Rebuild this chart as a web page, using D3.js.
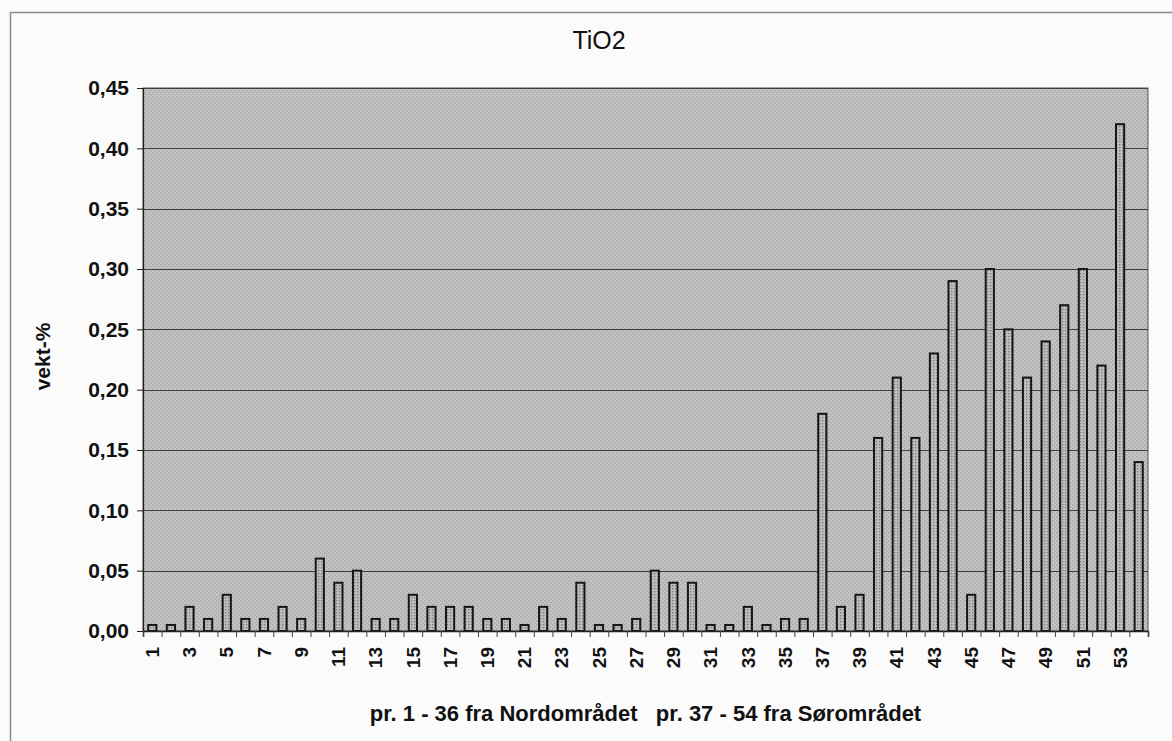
<!DOCTYPE html>
<html>
<head>
<meta charset="utf-8">
<script src="https://cdn.jsdelivr.net/npm/d3@7"></script>
<style>
  html, body { margin: 0; padding: 0; background: #fbfbfb; }
  svg { display: block; }
  text { font-family: "Liberation Sans", Arial, sans-serif; fill: #111; }
</style>
</head>
<body>
<svg id="chart" width="1172" height="741"></svg>
<script>
// Sample numbers (1-54) and TiO2 content in weight-%
const samples = d3.range(1, 55);
const tio2 = [
  0.005, 0.005, 0.02, 0.01, 0.03, 0.01, 0.01, 0.02, 0.01, 0.06,
  0.04, 0.05, 0.01, 0.01, 0.03, 0.02, 0.02, 0.02, 0.01, 0.01,
  0.005, 0.02, 0.01, 0.04, 0.005, 0.005, 0.01, 0.05, 0.04, 0.04,
  0.005, 0.005, 0.02, 0.005, 0.01, 0.01, 0.18, 0.02, 0.03, 0.16,
  0.21, 0.16, 0.23, 0.29, 0.03, 0.30, 0.25, 0.21, 0.24, 0.27,
  0.30, 0.22, 0.42, 0.14
];
const yTicks = [0, 0.05, 0.10, 0.15, 0.20, 0.25, 0.30, 0.35, 0.40, 0.45];
const xLabelSamples = samples.filter(d => d % 2 === 1);

const chartTitle = "TiO2";
const yTitle = "vekt-%";
const xTitle = "pr. 1 - 36 fra Nordområdet   pr. 37 - 54 fra Sørområdet";

const svg = d3.select("#chart");
const plot = { left: 143, right: 1148, top: 88, bottom: 631 };

// Halftone-like fills for the plot area and the bars
const defs = svg.append("defs");
const bgPat = defs.append("pattern").attr("id", "bgDots")
  .attr("width", 4).attr("height", 4).attr("patternUnits", "userSpaceOnUse");
bgPat.append("rect").attr("width", 4).attr("height", 4).attr("fill", "#c4c4c4");
bgPat.append("rect").attr("x", 0).attr("y", 0).attr("width", 1.5).attr("height", 1.5).attr("fill", "#a6a6a6");
bgPat.append("rect").attr("x", 2).attr("y", 2).attr("width", 1.5).attr("height", 1.5).attr("fill", "#a6a6a6");

const barPat = defs.append("pattern").attr("id", "barDots")
  .attr("width", 3).attr("height", 3).attr("patternUnits", "userSpaceOnUse");
barPat.append("rect").attr("width", 3).attr("height", 3).attr("fill", "#bdbdbd");
barPat.append("rect").attr("x", 0).attr("y", 0).attr("width", 1.3).attr("height", 1.3).attr("fill", "#7c7c7c");

// Outer chart frame (left and top edges are visible)
svg.append("path")
  .attr("d", "M10.5,741 V12.5 H1172")
  .attr("fill", "none").attr("stroke", "#8c8c8c").attr("stroke-width", 1.5);

const x = d3.scaleBand().domain(samples)
  .range([plot.left, plot.right]).paddingInner(0.56).paddingOuter(0.28);
const xEdge = d3.scaleLinear().domain([0, samples.length]).range([plot.left, plot.right]);
const y = d3.scaleLinear().domain([0, 0.45]).range([plot.bottom, plot.top]);

const fmt = d => d3.format(".2f")(d).replace(".", ",");

// Plot background
svg.append("rect")
  .attr("x", plot.left).attr("y", plot.top)
  .attr("width", plot.right - plot.left).attr("height", plot.bottom - plot.top)
  .attr("fill", "url(#bgDots)")
  .attr("stroke", "#555").attr("stroke-width", 1);

// Horizontal gridlines
svg.append("g").selectAll("line").data(yTicks.filter(d => d > 0)).join("line")
  .attr("x1", plot.left).attr("x2", plot.right)
  .attr("y1", d => Math.round(y(d)) + 0.5).attr("y2", d => Math.round(y(d)) + 0.5)
  .attr("stroke", "#3f3f3f").attr("stroke-width", 1);

// Bars
svg.append("g").selectAll("rect").data(samples).join("rect")
  .attr("x", d => x(d))
  .attr("y", (d, i) => y(tio2[i]))
  .attr("width", x.bandwidth())
  .attr("height", (d, i) => y(0) - y(tio2[i]))
  .attr("fill", "url(#barDots)")
  .attr("stroke", "#161616").attr("stroke-width", 2);

// Y axis
const yAxis = svg.append("g")
  .attr("transform", `translate(${plot.left},0)`)
  .call(d3.axisLeft(y).tickValues(yTicks).tickFormat(fmt).tickSize(6).tickPadding(8));
yAxis.select(".domain").attr("stroke", "#222").attr("stroke-width", 1.2);
yAxis.selectAll(".tick line").attr("stroke", "#222");
yAxis.selectAll(".tick text")
  .style("font-size", "21px").style("font-weight", "bold").attr("fill", "#111");

// X axis: tick marks on category boundaries
const xAxis = svg.append("g")
  .attr("transform", `translate(0,${plot.bottom})`)
  .call(d3.axisBottom(xEdge).tickValues(d3.range(0, samples.length + 1)).tickFormat("").tickSize(6));
xAxis.select(".domain").attr("stroke", "#222").attr("stroke-width", 1.6);
xAxis.selectAll(".tick line").attr("stroke", "#444");

// X axis labels (every second sample), rotated
const xLab = svg.append("g")
  .attr("transform", `translate(0,${plot.bottom})`)
  .call(d3.axisBottom(x).tickValues(xLabelSamples).tickSize(0));
xLab.select(".domain").remove();
xLab.selectAll(".tick text")
  .attr("transform", "rotate(-90)")
  .attr("x", -16).attr("y", 0).attr("dy", "0.35em")
  .style("text-anchor", "end")
  .style("font-size", "19px").style("font-weight", "bold").attr("fill", "#111");

// Titles
svg.append("text").attr("x", 599).attr("y", 49)
  .attr("text-anchor", "middle").style("font-size", "25px")
  .text(chartTitle);

svg.append("text")
  .attr("transform", `translate(50,${(plot.top + plot.bottom) / 2 - 3}) rotate(-90)`)
  .attr("text-anchor", "middle").style("font-size", "21px").style("font-weight", "bold")
  .text(yTitle);

svg.append("text").attr("x", (plot.left + plot.right) / 2).attr("y", 721)
  .attr("text-anchor", "middle").style("font-size", "22px").style("font-weight", "bold")
  .attr("xml:space", "preserve")
  .text(xTitle);
</script>
</body>
</html>
